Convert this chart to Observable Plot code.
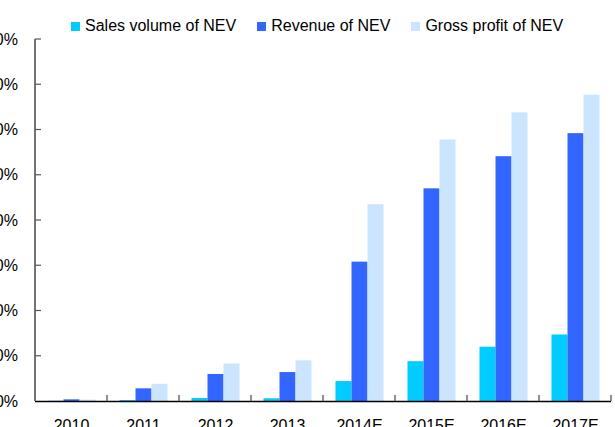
<!DOCTYPE html>
<html>
<head>
<meta charset="utf-8">
<script src="https://cdn.jsdelivr.net/npm/d3@7"></script>
<script src="https://cdn.jsdelivr.net/npm/@observablehq/plot@0.6"></script>
<style>
  html, body { margin: 0; padding: 0; background: #fff; }
  body { width: 615px; height: 427px; overflow: hidden; position: relative; font-family: "Liberation Sans", Arial, sans-serif; }
  #chart { position: absolute; left: -45px; top: 0; }
  #legend { position: absolute; top: 17px; left: 71px; display: flex; align-items: center; font-size: 16px; line-height: 18px; color: #000; white-space: nowrap; }
  .item { display: flex; align-items: center; margin-right: 21px; }
  .sw { width: 9px; height: 9px; margin-right: 5px; }
</style>
</head>
<body>
<div id="chart"></div>
<div id="legend"></div>
<script>
const years = ["2010", "2011", "2012", "2013", "2014E", "2015E", "2016E", "2017E"];
const series = ["Sales volume of NEV", "Revenue of NEV", "Gross profit of NEV"];
const salesVolume = [0.05, 0.2, 0.66, 0.6, 4.4, 8.8, 12.0, 14.7];
const revenue = [0.37, 2.8, 5.97, 6.4, 30.8, 47.0, 54.1, 59.2];
const grossProfit = [0.3, 3.8, 8.3, 9.0, 43.5, 57.8, 63.8, 67.7];
const colors = ["#00CCFF", "#3366FF", "#CCE5FF"];
const yTicks = [0, 10, 20, 30, 40, 50, 60, 70, 80];
const yTickLabels = ["0%", "10%", "20%", "30%", "40%", "50%", "60%", "70%", "80%"];

const valuesBySeries = [salesVolume, revenue, grossProfit];
const data = years.flatMap((yr, i) => series.map((s, j) => ({year: yr, series: s, value: valuesBySeries[j][i]})));

const chart = Plot.plot({
  width: 660,
  height: 440,
  marginLeft: 78.5,
  marginRight: 2.2,
  marginTop: 39,
  marginBottom: 39,
  style: {fontFamily: "'Liberation Sans', Arial, sans-serif", fontSize: "16px", color: "#000", background: "transparent", overflow: "visible"},
  fx: {domain: years, padding: 0, label: null},
  x: {domain: series, paddingInner: 0, paddingOuter: 0.75, axis: null},
  y: {domain: [0, 80]},
  color: {domain: series, range: colors},
  marks: [
    Plot.barY(data, {fx: "year", x: "series", y: "value", fill: "series"}),
    Plot.ruleY([0], {stroke: "#000", strokeWidth: 1.5}),
    Plot.axisFx({anchor: "bottom", tickSize: 0, tickPadding: 18, fontSize: 16, label: null}),
    Plot.axisY({ticks: yTicks, tickFormat: d => yTickLabels[yTicks.indexOf(d)], tickSize: 0, tickPadding: 17.5, fontSize: 16, label: null})
  ]
});
document.getElementById("chart").appendChild(chart);

// axis line and tick marks derived from the plot's scales
const sy = chart.scale("y");
const sfx = chart.scale("fx");
const svg = d3.select(chart);
const x0 = sfx.apply(years[0]);
const y0 = sy.apply(0);
const g = svg.append("g");
g.append("line").attr("x1", x0).attr("x2", x0).attr("y1", sy.apply(yTicks[yTicks.length - 1])).attr("y2", y0)
  .attr("stroke", "#444").attr("stroke-width", 1.5);
yTicks.slice(1).forEach(t => {
  g.append("line").attr("x1", x0).attr("x2", x0 + 6).attr("y1", sy.apply(t)).attr("y2", sy.apply(t))
    .attr("stroke", "#555").attr("stroke-width", 1.2);
});
const bounds = years.slice(1).map(y => sfx.apply(y));
bounds.push(sfx.apply(years[years.length - 1]) + sfx.bandwidth);
bounds.forEach(b => {
  g.append("line").attr("x1", b).attr("x2", b).attr("y1", y0).attr("y2", y0 - 6)
    .attr("stroke", "#444").attr("stroke-width", 1.2);
});

// legend
const legend = d3.select("#legend");
series.forEach((s, i) => {
  const it = legend.append("div").attr("class", "item");
  it.append("div").attr("class", "sw").style("background", colors[i]);
  it.append("span").text(s);
});
</script>
</body>
</html>
